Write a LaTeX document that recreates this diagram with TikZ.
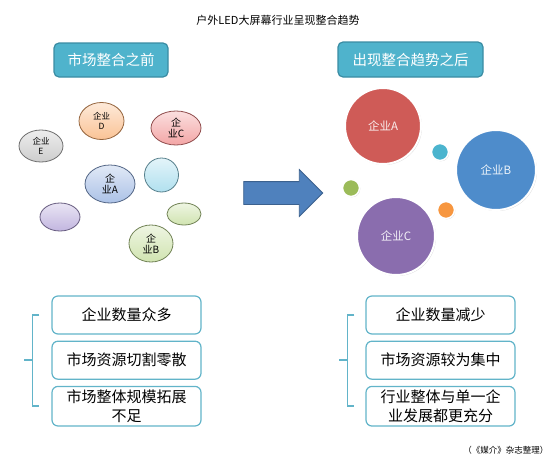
\documentclass[tikz,border=0pt]{standalone}
\usepackage{fontspec}
\setmainfont{Noto Sans CJK SC}
\usetikzlibrary{shapes.geometric,shapes.arrows,shadows,positioning}

\definecolor{btnfill}{HTML}{4FB3CC}
\definecolor{btnline}{HTML}{3A8CA3}
\definecolor{listline}{HTML}{62B4C9}
\definecolor{arrowblue}{HTML}{4F81BD}
\definecolor{fgray}{HTML}{B8B8B8}
\definecolor{forange}{HTML}{F8A968}
\definecolor{fred}{HTML}{EE7F7F}
\definecolor{fblue}{HTML}{87A7DC}
\definecolor{fcyan}{HTML}{8FD3E8}
\definecolor{fpurple}{HTML}{A896D2}
\definecolor{fgreen}{HTML}{BCD88E}
\definecolor{bigred}{HTML}{CF5B57}
\definecolor{bigblue}{HTML}{4E8CCB}
\definecolor{bigpurple}{HTML}{8A6DAE}
\definecolor{dotcyan}{HTML}{4BB4CE}
\definecolor{dotgreen}{HTML}{9BBB59}
\definecolor{dotorange}{HTML}{F7963F}

\begin{document}
\begin{tikzpicture}[x=1pt,y=-1pt,
    headline/.style={rectangle,rounded corners=5pt,draw=btnline,line width=1.2pt,fill=btnfill,
      text=white,font=\fontsize{14.5}{16}\selectfont},
    firm/.style={ellipse,draw=#1!60!black,line width=0.8pt,top color=#1!25,bottom color=#1!70,
      inner sep=0pt,align=center,font=\fontsize{8.5}{10}\selectfont},
    bigfirm/.style={circle,fill=#1,draw=white,line width=2pt,minimum size=78pt,
      text=white!90!#1,font=\fontsize{11.5}{13}\selectfont,
      drop shadow={opacity=0.3,shadow xshift=1pt,shadow yshift=-1pt}},
    spot/.style={circle,fill=#1,draw=white,line width=1.5pt,minimum size=17pt,inner sep=0pt,
      drop shadow={opacity=0.3,shadow xshift=0.8pt,shadow yshift=-0.8pt}},
    point/.style={rectangle,rounded corners=6pt,draw=listline,line width=1.2pt,fill=white,
      minimum width=149pt,minimum height=38pt,align=center,font=\fontsize{15}{19}\selectfont},
    bracket/.style={draw=listline,line width=1.6pt}]

  \useasboundingbox (0,0) rectangle (557,463);

  \node[font=\fontsize{11}{12}\selectfont] (title) at (278,20) {户外LED大屏幕行业呈现整合趋势};

  % before / after headings
  \node[headline,minimum width=114pt,minimum height=34pt] (before) at (111,60) {市场整合之前};
  \node[headline,minimum width=145pt,minimum height=35pt] (after) at (410.5,59.5) {出现整合趋势之后};

  % scattered firms
  \node[firm=fgray,minimum width=44pt,minimum height=32pt] (fe) at (41,146) {企业\\E};
  \node[firm=forange,minimum width=45pt,minimum height=37pt] (fd) at (101.5,121) {企业\\D};
  \node[firm=fred,minimum width=50pt,minimum height=34pt,font=\fontsize{10}{11}\selectfont] (fc) at (176,128) {企\\业C};
  \node[firm=fblue,minimum width=50pt,minimum height=38pt,font=\fontsize{10}{11}\selectfont] (fa) at (110,184) {企\\业A};
  \node[firm=fcyan,minimum width=34pt,minimum height=34pt] (fx) at (161.5,175) {};
  \node[firm=fpurple,minimum width=40pt,minimum height=28pt] (fy) at (60,217) {};
  \node[firm=fgreen,minimum width=34pt,minimum height=22pt] (fz) at (184,214) {};
  \node[firm=fgreen,minimum width=44pt,minimum height=37pt,font=\fontsize{10}{11}\selectfont] (fb) at (151,243.5) {企\\业B};

  \node[single arrow,fill=arrowblue,draw=arrowblue!75!black,line width=0.8pt,minimum height=79pt,
    inner sep=11pt,single arrow head extend=12pt] (move) at (277.5,193) {};

  % merged firms
  \node[bigfirm=bigred,minimum size=76pt] (ga) at (383,126) {企业A};
  \node[bigfirm=bigblue,minimum size=80pt] (gb) at (496,170) {企业B};
  \node[bigfirm=bigpurple] (gc) at (396,236) {企业C};
  \node[spot=dotcyan] (sa) at (440,152) {};
  \node[spot=dotgreen] (sb) at (351,188) {};
  \node[spot=dotorange] (sc) at (446,210) {};

  % lists
  \node[point] (l1) at (126.5,315) {企业数量众多};
  \node[point,below=6pt of l1] (l2) {市场资源切割零散};
  \node[point,below=6pt of l2] (l3) {市场整体规模拓展\\不足};
  \node[point] (r1) at (440.5,315) {企业数量减少};
  \node[point,below=6pt of r1] (r2) {市场资源较为集中};
  \node[point,below=6pt of r2] (r3) {行业整体与单一企\\业发展都更充分};

  \draw[bracket] ([xshift=-12pt]l1.west) -- ++(-7,0) |- ([xshift=-12pt]l3.west);
  \draw[bracket] ([xshift=-19pt]l2.west) -- ++(-8,0);
  \draw[bracket] ([xshift=-11pt]r1.west) -- ++(-7,0) |- ([xshift=-11pt]r3.west);
  \draw[bracket] ([xshift=-18pt]r2.west) -- ++(-8,0);

  \node[font=\fontsize{8.5}{10}\selectfont,anchor=east] (src) at (552,450) {（《媒介》杂志整理）};
\end{tikzpicture}
\end{document}
